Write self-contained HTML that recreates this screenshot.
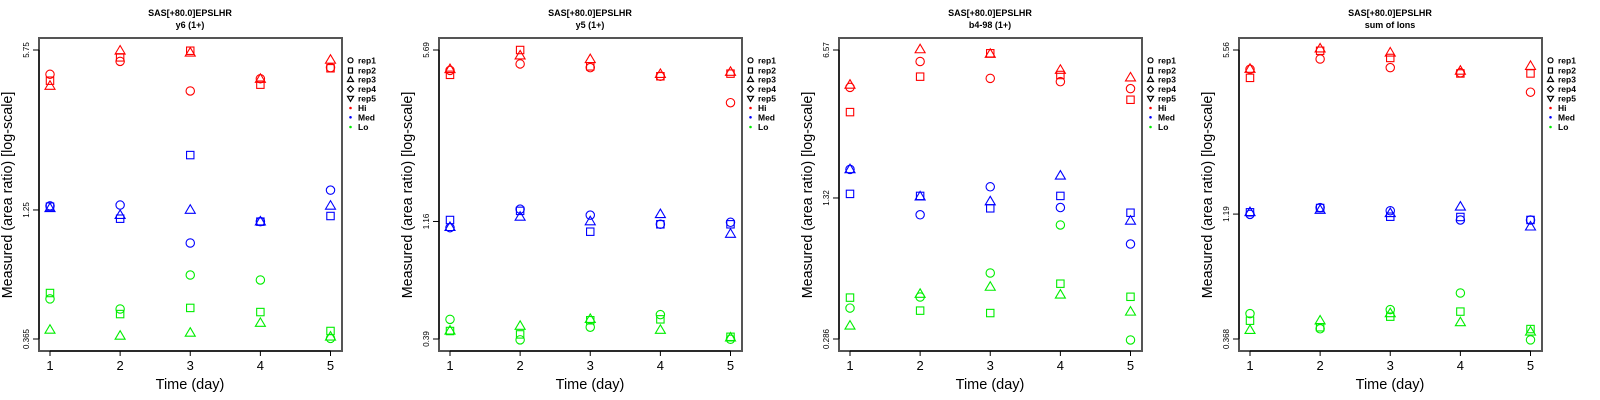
<!DOCTYPE html>
<html><head><meta charset="utf-8">
<style>
html,body{margin:0;padding:0;background:#fff;}
svg{display:block;font-family:"Liberation Sans",sans-serif;}
</style></head>
<body>
<svg id="chart" width="1600" height="400" viewBox="0 0 1600 400"></svg>
<script>
const days = [1, 2, 3, 4, 5];
const panelTitles = ["y6 (1+)", "y5 (1+)", "b4-98 (1+)", "sum of Ions"];
const peptide = "SAS[+80.0]EPSLHR";
const yMins = [0.365, 0.39, 0.286, 0.368];
const yMaxs = [5.75, 5.69, 6.57, 5.56];
const yMids = [1.25, 1.16, 1.32, 1.19];
const yTickLabels = [["0.365","1.25","5.75"],["0.39","1.16","5.69"],["0.286","1.32","6.57"],["0.368","1.19","5.56"]];
const groups = ["Hi", "Med", "Lo"];
const reps = ["rep1", "rep2", "rep3"];

// panel 1 (y6)
const p1HiRep1 = [4.56, 5.16, 3.89, 4.37, 4.86];
const p1HiRep2 = [4.29, 5.36, 5.71, 4.13, 4.83];
const p1HiRep3 = [4.08, 5.71, 5.60, 4.36, 5.23];
const p1MedRep1 = [1.30, 1.31, 0.912, 1.118, 1.51];
const p1MedRep2 = [1.29, 1.15, 2.11, 1.118, 1.18];
const p1MedRep3 = [1.27, 1.19, 1.25, 1.118, 1.30];
const p1LoRep1 = [0.535, 0.486, 0.672, 0.641, 0.367];
const p1LoRep2 = [0.566, 0.463, 0.491, 0.472, 0.394];
const p1LoRep3 = [0.398, 0.376, 0.387, 0.425, 0.373];
// panel 2 (y5)
const p2HiRep1 = [4.71, 5.00, 4.83, 4.46, 3.49];
const p2HiRep2 = [4.52, 5.69, 4.89, 4.46, 4.57];
const p2HiRep3 = [4.76, 5.40, 5.22, 4.55, 4.64];
const p2MedRep1 = [1.095, 1.30, 1.23, 1.13, 1.151];
const p2MedRep2 = [1.176, 1.28, 1.055, 1.13, 1.13];
const p2MedRep3 = [1.10, 1.21, 1.16, 1.24, 1.033];
const p2LoRep1 = [0.468, 0.387, 0.435, 0.489, 0.389];
const p2LoRep2 = [0.420, 0.407, 0.464, 0.468, 0.398];
const p2LoRep3 = [0.421, 0.440, 0.469, 0.424, 0.395];
// panel 3 (b4-98)
const p3HiRep1 = [4.38, 5.80, 4.83, 4.66, 4.32];
const p3HiRep2 = [3.35, 4.92, 6.34, 5.01, 3.83];
const p3HiRep3 = [4.50, 6.61, 6.29, 5.29, 4.87];
const p3MedRep1 = [1.80, 1.10, 1.49, 1.19, 0.801];
const p3MedRep2 = [1.38, 1.35, 1.18, 1.35, 1.125];
const p3MedRep3 = [1.80, 1.34, 1.27, 1.68, 1.03];
const p3LoRep1 = [0.400, 0.451, 0.585, 0.985, 0.283];
const p3LoRep2 = [0.448, 0.389, 0.379, 0.521, 0.452];
const p3LoRep3 = [0.330, 0.466, 0.503, 0.462, 0.384];
// panel 4 (sum of ions)
const p4HiRep1 = [4.64, 5.11, 4.71, 4.49, 3.74];
const p4HiRep2 = [4.28, 5.52, 5.16, 4.46, 4.46];
const p4HiRep3 = [4.65, 5.63, 5.42, 4.57, 4.78];
const p4MedRep1 = [1.187, 1.265, 1.228, 1.126, 1.126];
const p4MedRep2 = [1.21, 1.26, 1.161, 1.158, 1.126];
const p4MedRep3 = [1.21, 1.236, 1.199, 1.275, 1.057];
const p4LoRep1 = [0.467, 0.405, 0.485, 0.567, 0.365];
const p4LoRep2 = [0.437, 0.411, 0.454, 0.476, 0.404];
const p4LoRep3 = [0.400, 0.437, 0.468, 0.430, 0.394];

const panelData = [
  [[p1HiRep1,p1HiRep2,p1HiRep3],[p1MedRep1,p1MedRep2,p1MedRep3],[p1LoRep1,p1LoRep2,p1LoRep3]],
  [[p2HiRep1,p2HiRep2,p2HiRep3],[p2MedRep1,p2MedRep2,p2MedRep3],[p2LoRep1,p2LoRep2,p2LoRep3]],
  [[p3HiRep1,p3HiRep2,p3HiRep3],[p3MedRep1,p3MedRep2,p3MedRep3],[p3LoRep1,p3LoRep2,p3LoRep3]],
  [[p4HiRep1,p4HiRep2,p4HiRep3],[p4MedRep1,p4MedRep2,p4MedRep3],[p4LoRep1,p4LoRep2,p4LoRep3]]
];
const colors = ["#ff0000", "#0000ff", "#00ee00"];

const NS = "http://www.w3.org/2000/svg";
const svg = document.getElementById("chart");
function mk(tag, attrs, parent) {
  const e = document.createElementNS(NS, tag);
  for (const k in attrs) e.setAttribute(k, attrs[k]);
  parent.appendChild(e);
  return e;
}
function marker(shape, x, y, col, parent) {
  let e;
  if (shape === 0) e = mk("circle", {cx:x, cy:y, r:4.2, fill:"none", stroke:col, "stroke-width":1.1}, parent);
  else if (shape === 1) e = mk("rect", {x:x-3.7, y:y-3.7, width:7.4, height:7.4, fill:"none", stroke:col, "stroke-width":1.1}, parent);
  else e = mk("polygon", {points:`${x},${y-5.2} ${x+5},${y+3.3} ${x-5},${y+3.3}`, fill:"none", stroke:col, "stroke-width":1.1}, parent);
  return e;
}

for (let p = 0; p < 4; p++) {
  const ox = p * 400;
  const g = mk("g", {transform:`translate(${ox},0)`}, svg);
  
  
  const L = 39, R = 342, T = 38, B = 351;
  const xS = d => 50 + (d - 1) * (330.5 - 50) / 4;
  const lmin = Math.log(yMins[p]), lmax = Math.log(yMaxs[p]);
  const yS = v => 339 - (Math.log(v) - lmin) / (lmax - lmin) * 289;

  const t1 = mk("text", {x:190, y:16, "text-anchor":"middle", "font-size":9, "font-weight":"bold", fill:"#000"}, g);
  t1.textContent = peptide;
  
  
  const t2 = mk("text", {x:190, y:28, "text-anchor":"middle", "font-size":9, "font-weight":"bold", fill:"#000"}, g);
  t2.textContent = panelTitles[p];
  
  

  const frame = mk("rect", {x:L, y:T, width:R-L, height:B-T, fill:"none", stroke:"#555", "stroke-width":2}, g);
  
  

  days.forEach(d => {
    mk("line", {x1:xS(d), x2:xS(d), y1:351, y2:356, stroke:"#000", "stroke-width":1}, g);
    const tl = mk("text", {x:xS(d), y:370, "text-anchor":"middle", "font-size":13, fill:"#000"}, g);
    tl.textContent = d;
    
    
  });
  mk("line", {x1:xS(1), x2:xS(5), y1:351, y2:351, stroke:"#000", "stroke-width":1}, g);
  const xt = mk("text", {x:190, y:389, "text-anchor":"middle", "font-size":14.5, fill:"#000"}, g);
  xt.textContent = "Time (day)";
  
  

  const tickVals = [yMins[p], yMids[p], yMaxs[p]];
  tickVals.forEach((v, i) => {
    const y = yS(v);
    mk("line", {x1:33, x2:39, y1:y, y2:y, stroke:"#000", "stroke-width":1}, g);
    const tl = mk("text", {x:0, y:0, "text-anchor":"middle", "font-size":8, fill:"#000", transform:`translate(29,${y}) rotate(-90)`}, g);
    tl.textContent = yTickLabels[p][i];
    
    
  });
  mk("line", {x1:39, x2:39, y1:yS(yMins[p]), y2:yS(yMaxs[p]), stroke:"#000", "stroke-width":1}, g);
  const yt = mk("text", {x:0, y:0, "text-anchor":"middle", "font-size":14.3, fill:"#000", transform:"translate(12,195) rotate(-90)"}, g);
  yt.textContent = "Measured (area ratio) [log-scale]";
  
  

  panelData[p].forEach((grp, gi) => {
    grp.forEach((series, ri) => {
      series.forEach((v, di) => {
        const m = marker(ri, xS(days[di]), yS(v), colors[gi], g);
        
        
      });
    });
  });

  const lg = mk("g", {}, g);
  
  
  const labels = ["rep1","rep2","rep3","rep4","rep5","Hi","Med","Lo"];
  const rowY = [60.3, 70.5, 79.5, 89, 98.3, 108, 117.3, 127];
  labels.forEach((lab, i) => {
    const y = rowY[i], sx = 350.5;
    if (i === 0) mk("circle", {cx:sx, cy:y, r:2.5, fill:"none", stroke:"#000", "stroke-width":1.2}, lg);
    else if (i === 1) mk("rect", {x:sx-2, y:y-2.5, width:4, height:5, fill:"none", stroke:"#000", "stroke-width":1.2}, lg);
    else if (i === 2) mk("polygon", {points:`${sx},${y-3} ${sx+3},${y+2} ${sx-3},${y+2}`, fill:"none", stroke:"#000", "stroke-width":1.2}, lg);
    else if (i === 3) mk("polygon", {points:`${sx},${y-3} ${sx+3},${y} ${sx},${y+3} ${sx-3},${y}`, fill:"none", stroke:"#000", "stroke-width":1.2}, lg);
    else if (i === 4) mk("polygon", {points:`${sx-3},${y-2} ${sx+3},${y-2} ${sx},${y+3}`, fill:"none", stroke:"#000", "stroke-width":1.2}, lg);
    else mk("circle", {cx:sx, cy:y, r:1.3, fill:colors[i-5]}, lg);
    const t = mk("text", {x:358, y:y+3, "font-size":8.5, "font-weight":"bold", fill:"#000"}, lg);
    t.textContent = lab;
    
    
  });
}
</script>
</body></html>
